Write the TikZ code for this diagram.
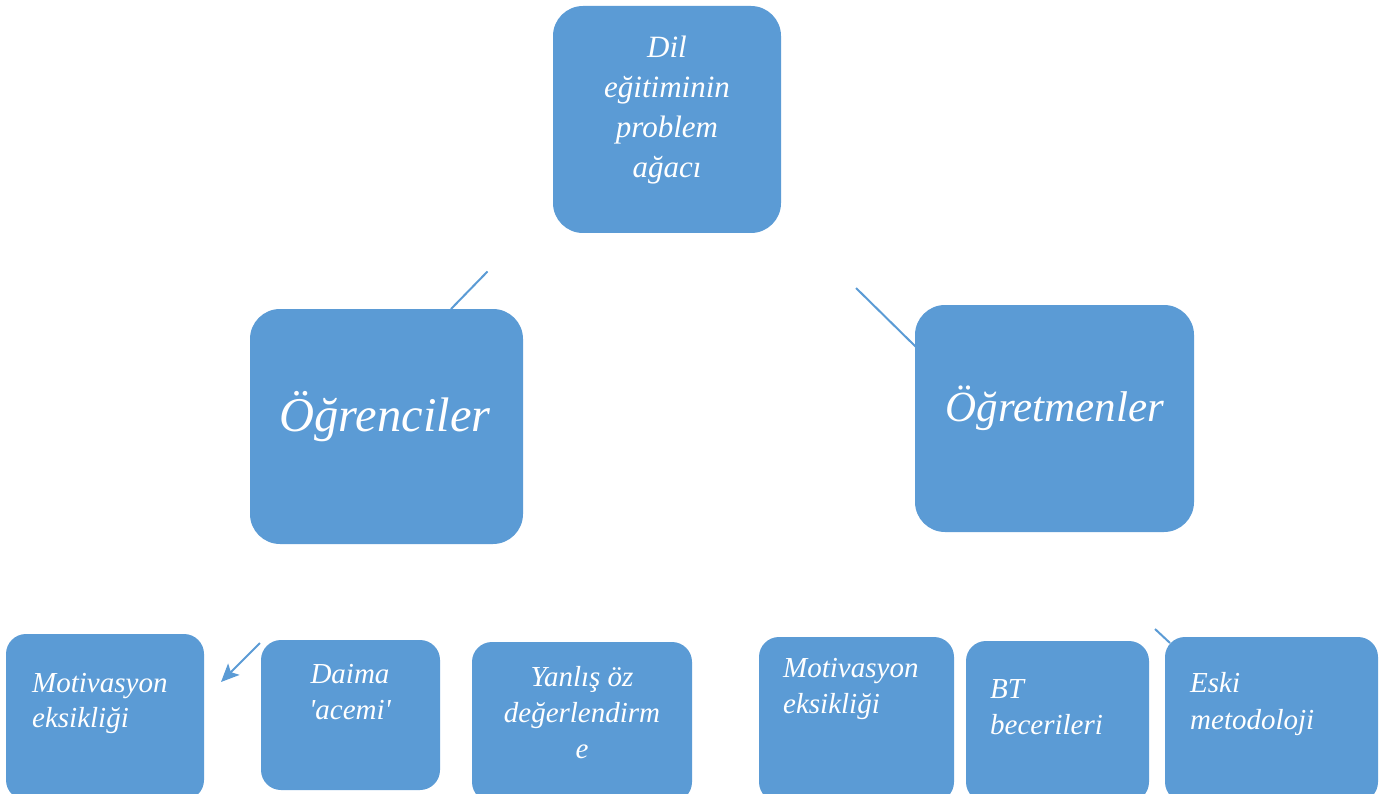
\documentclass[tikz,border=0pt]{standalone}
\usepackage{fontspec}
\setmainfont{Liberation Serif}
\usetikzlibrary{arrows.meta}
\definecolor{boxblue}{HTML}{5B9BD5}
\tikzset{
  box/.style={fill=boxblue, rounded corners=#1, inner sep=0pt, outer sep=0pt},
  box/.default=20pt,
  lbl/.style={text=white, font=\itshape, inner sep=0pt, align=center},
  conn/.style={draw=boxblue, line width=2pt},
}
\begin{document}
\begin{tikzpicture}[x=1pt,y=-1pt]
\useasboundingbox (0,0) rectangle (1394,794);
\clip (0,0) rectangle (1394,794);
% boxes
\node[box=30pt, minimum width=228pt, minimum height=227pt] (top) at (667,119.5) {};
\node[box=30pt, minimum width=273pt, minimum height=235pt] (ogr) at (386.5,426.5) {};
\node[box=30pt, minimum width=279pt, minimum height=227pt] (ogt) at (1054.5,418.5) {};
\node[box=20pt, minimum width=198pt, minimum height=166pt] (b1) at (105,717) {};
\node[box=20pt, minimum width=179pt, minimum height=150pt] (b2) at (350.5,715) {};
\node[box=20pt, minimum width=220pt, minimum height=160pt] (b3) at (582,722) {};
\node[box=20pt, minimum width=195pt, minimum height=165pt] (b4) at (856.5,719.5) {};
\node[box=20pt, minimum width=183pt, minimum height=161pt] (b5) at (1057.5,721.5) {};
\node[box=20pt, minimum width=213pt, minimum height=165pt] (b6) at (1271.5,719.5) {};
% texts
\node[lbl, font=\itshape\fontsize{31}{40}\selectfont] (ttop) at (667,110) {Dil\\eğitiminin\\problem\\ağacı};
\node[lbl, font=\itshape\fontsize{48.5}{52}\selectfont] (togr) at (385,417) {Öğrenciler};
\node[lbl, font=\itshape\fontsize{43}{46}\selectfont] (togt) at (1055,408) {Öğretmenler};
\node[lbl, align=left, anchor=west, font=\itshape\fontsize{29}{35}\selectfont] (t1) at (32,703.5) {Motivasyon\\eksikliği};
\node[lbl, font=\itshape\fontsize{29}{36}\selectfont] (t2) at (350,692) {Daima\\\textquotesingle acemi\textquotesingle};
\node[lbl, font=\itshape\fontsize{29}{36}\selectfont] (t3) at (582,713) {Yanlış öz\\değerlendirm\\e};
\node[lbl, align=left, anchor=west, font=\itshape\fontsize{29}{36}\selectfont] (t4) at (783,689) {Motivasyon\\eksikliği};
\node[lbl, align=left, anchor=west, font=\itshape\fontsize{29}{36}\selectfont] (t5) at (990,707) {BT\\becerileri};
\node[lbl, align=left, anchor=west, font=\itshape\fontsize{29}{37}\selectfont] (t6) at (1190,704.5) {Eski\\metodoloji};
% connectors
\coordinate (c1) at (487.5,271.5);
\coordinate (c1e) at (451,309);
\coordinate (c2) at (856,288);
\coordinate (c2e) at (916,347);
\coordinate (c3) at (260,643);
\coordinate (c3e) at (221,682);
\coordinate (c4) at (1155,629);
\coordinate (c4e) at (1170,643);
\draw[conn] (c1) -- (c1e);
\draw[conn] (c2) -- (c2e);
\draw[conn, -{Stealth[length=18pt,width=16pt,inset=4pt]}] (c3) -- (c3e);
\draw[conn] (c4) -- (c4e);
\end{tikzpicture}
\end{document}
